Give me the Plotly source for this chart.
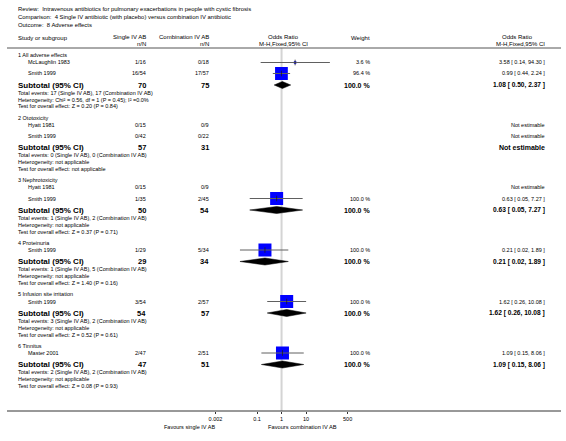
import math
import plotly.graph_objects as go

W, H = 566, 441
FONT = "Liberation Sans, Arial, sans-serif"

title_lines = [
    "Review:  Intravenous antibiotics for pulmonary exacerbations in people with cystic fibrosis",
    "Comparison:  4 Single IV antibiotic (with placebo) versus combination IV antibiotic",
    "Outcome:  8 Adverse effects",
]

group_names = ["1 All adverse effects", "2 Ototoxicity", "3 Nephrotoxicity",
               "4 Proteinuria", "5 Infusion site irritation", "6 Tinnitus"]

study_names = [["McLaughlin 1983", "Smith 1999"], ["Hyatt 1981", "Smith 1999"],
               ["Hyatt 1981", "Smith 1999"], ["Smith 1999"], ["Smith 1999"], ["Master 2001"]]
single_nN = [["1/16", "16/54"], ["0/15", "0/42"], ["0/15", "1/35"], ["1/29"], ["3/54"], ["2/47"]]
comb_nN = [["0/18", "17/57"], ["0/9", "0/22"], ["0/9", "2/45"], ["5/34"], ["2/57"], ["2/51"]]
study_weight = [[3.6, 96.4], [None, None], [None, 100.0], [100.0], [100.0], [100.0]]
study_or = [[3.58, 0.99], [None, None], [None, 0.63], [0.21], [1.62], [1.09]]
study_lo = [[0.14, 0.44], [None, None], [None, 0.05], [0.02], [0.26], [0.15]]
study_hi = [[94.30, 2.24], [None, None], [None, 7.27], [1.89], [10.08], [8.06]]

sub_single_total = [70, 57, 50, 29, 54, 47]
sub_comb_total = [75, 31, 54, 34, 57, 51]
sub_weight = [100.0, None, 100.0, 100.0, 100.0, 100.0]
sub_or = [1.08, None, 0.63, 0.21, 1.62, 1.09]
sub_lo = [0.50, None, 0.05, 0.02, 0.26, 0.15]
sub_hi = [2.37, None, 7.27, 1.89, 10.08, 8.06]
events_single = [17, 0, 1, 1, 3, 2]
events_comb = [17, 0, 2, 5, 2, 2]
heterogeneity = ["Heterogeneity: Chi² = 0.56, df = 1 (P = 0.45); I² =0.0%",
                 "Heterogeneity: not applicable", "Heterogeneity: not applicable",
                 "Heterogeneity: not applicable", "Heterogeneity: not applicable",
                 "Heterogeneity: not applicable"]
overall_effect = ["Test for overall effect: Z = 0.20 (P = 0.84)",
                  "Test for overall effect: not applicable",
                  "Test for overall effect: Z = 0.37 (P = 0.71)",
                  "Test for overall effect: Z = 1.40 (P = 0.16)",
                  "Test for overall effect: Z = 0.52 (P = 0.61)",
                  "Test for overall effect: Z = 0.08 (P = 0.93)"]

tick_vals = [0.002, 0.1, 1, 10, 500]
tick_text = ["0.002", "0.1", "1", "10", "500"]
favours_left = "Favours single IV AB"
favours_right = "Favours combination IV AB"

# ---- layout constants (pixels) ----
X_LEFT, X_STUDY = 10, 20
X_SINGLE, X_COMB = 143, 207
X_PLOT_C = 282
X_WEIGHT = 372
X_RIGHT = 551
Y_AXIS = 411
Y_HEADER_LINE = 48

annotations = []
shapes = []


def txt(s, px, py, anchor="left", size=5.5, bold=False, color="black"):
    annotations.append(dict(
        text=f"<b>{s}</b>" if bold else s, x=px / W, y=1 - py / H,
        xref="paper", yref="paper", xanchor=anchor, yanchor="middle",
        showarrow=False, borderpad=0, font=dict(size=size, color=color, family=FONT)))


def ci_text(o, l, h):
    return f"{o:.2f} [ {l:.2f}, {h:.2f} ]"


for i, t in enumerate(title_lines):
    txt(t, X_LEFT, 9 + 8 * i, size=5.9)

# header
txt("Study or subgroup", X_LEFT, 38, size=6)
txt("Single IV AB", X_SINGLE, 37, "right", size=6)
txt("n/N", X_SINGLE, 44, "right", size=6)
txt("Combination IV AB", X_COMB, 37, "right", size=6)
txt("n/N", X_COMB, 44, "right", size=6)
txt("Odds Ratio", X_PLOT_C, 37, "center", size=6)
txt("M-H,Fixed,95% CI", X_PLOT_C, 44, "center", size=6)
txt("Weight", X_WEIGHT, 38, "right", size=6)
txt("Odds Ratio", X_RIGHT - 13, 37, "right", size=6)
txt("M-H,Fixed,95% CI", X_RIGHT, 44, "right", size=6)

shapes.append(dict(type="line", xref="paper", yref="paper", x0=0, x1=1,
                   y0=1 - Y_HEADER_LINE / H, y1=1 - Y_HEADER_LINE / H,
                   line=dict(color="#555", width=1)))
shapes.append(dict(type="line", xref="paper", yref="paper", x0=0, x1=1,
                   y0=1 - Y_AXIS / H, y1=1 - Y_AXIS / H,
                   line=dict(color="#333", width=1)))
shapes.append(dict(type="line", xref="x", yref="y", x0=1, x1=1,
                   y0=Y_HEADER_LINE, y1=Y_AXIS, layer="below",
                   line=dict(color="#d4d4d4", width=2)))

traces = []
y = 55.0
for g in range(len(group_names)):
    txt(group_names[g], X_LEFT, y, size=5.5)
    sy = y + 7.5
    for s in range(len(study_names[g])):
        txt(study_names[g][s], X_STUDY, sy, size=5.5)
        txt(single_nN[g][s], X_SINGLE, sy, "right", size=5.5)
        txt(comb_nN[g][s], X_COMB, sy, "right", size=5.5)
        o = study_or[g][s]
        if o is None:
            txt("Not estimable", X_RIGHT, sy, "right", size=5.5)
        else:
            lo, hi, w = study_lo[g][s], study_hi[g][s], study_weight[g][s]
            txt(f"{w:.1f} %", X_WEIGHT, sy, "right", size=5.5)
            txt(ci_text(o, lo, hi), X_RIGHT, sy, "right", size=5.5)
            size = max(2.5, 13 * math.sqrt(w / 100))
            traces.append(go.Scatter(x=[o], y=[sy], mode="markers",
                                     marker=dict(symbol="square", size=size, color="#0000FF",
                                                 line=dict(width=0))))
            traces.append(go.Scatter(x=[lo, hi], y=[sy, sy], mode="lines",
                                     line=dict(color="#606060", width=1)))
            traces.append(go.Scatter(x=[o], y=[sy], mode="markers",
                                     marker=dict(symbol="line-ns-open", size=4, color="#202020",
                                                 line=dict(color="#202020", width=0.8))))
        last = sy
        sy += 11
    sub_y = last + 11.5
    txt("Subtotal (95% CI)", X_LEFT, sub_y, size=8, bold=True)
    txt(str(sub_single_total[g]), X_SINGLE, sub_y, "right", size=7.5, bold=True)
    txt(str(sub_comb_total[g]), X_COMB, sub_y, "right", size=7.5, bold=True)
    if sub_or[g] is None:
        txt("Not estimable", X_RIGHT, sub_y, "right", size=7, bold=True)
    else:
        o, lo, hi = sub_or[g], sub_lo[g], sub_hi[g]
        txt(f"{sub_weight[g]:.1f} %", X_WEIGHT, sub_y, "right", size=7, bold=True)
        txt(ci_text(o, lo, hi), X_RIGHT, sub_y, "right", size=6.6, bold=True)
        traces.append(go.Scatter(x=[lo, o, hi, o, lo], y=[sub_y, sub_y - 3.5, sub_y, sub_y + 3.5, sub_y],
                                 mode="lines", fill="toself", fillcolor="black",
                                 line=dict(color="black", width=0.5)))
    txt(f"Total events: {events_single[g]} (Single IV AB), {events_comb[g]} (Combination IV AB)",
        X_LEFT, sub_y + 7.5, size=5.5)
    txt(heterogeneity[g], X_LEFT, sub_y + 14.5, size=5.5)
    txt(overall_effect[g], X_LEFT, sub_y + 21.5, size=5.5)
    y = sub_y + 32.5

txt(favours_left, 214, 427, "right", size=5.5)
txt(favours_right, 266, 427, "left", size=5.7)

fig = go.Figure(traces)
fig.update_layout(
    width=W, height=H, margin=dict(l=0, r=0, t=0, b=0, pad=0),
    paper_bgcolor="white", plot_bgcolor="white", showlegend=False,
    annotations=annotations, shapes=shapes,
    font=dict(family=FONT, size=5.5, color="black"),
    xaxis=dict(type="log", range=[math.log10(0.002), math.log10(500)],
               domain=[213 / W, 348 / W], tickvals=tick_vals, ticktext=tick_text,
               ticks="outside", ticklen=2, tickcolor="#333", tickwidth=1,
               showline=False, showgrid=False, zeroline=False,
               tickfont=dict(size=5.5, family=FONT, color="black"), fixedrange=True),
    yaxis=dict(range=[Y_AXIS, 0], domain=[(H - Y_AXIS) / H, 1], visible=False,
               fixedrange=True),
)
fig.write_html("out.html", config={"displayModeBar": False},
               post_script="document.body.style.margin='0';")
